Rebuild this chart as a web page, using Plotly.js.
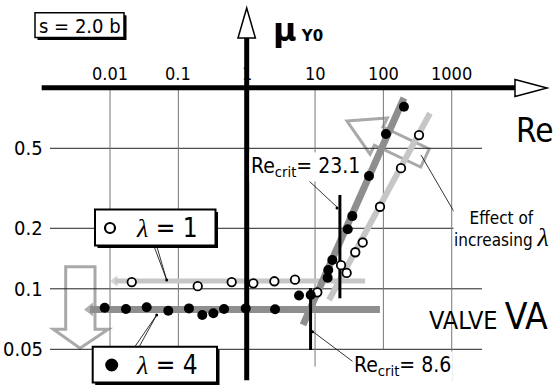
<!DOCTYPE html>
<html>
<head>
<meta charset="utf-8">
<script src="https://cdn.plot.ly/plotly-3.0.1.min.js"></script>
<style>
  html, body { margin: 0; padding: 0; background: #fff; }
  #chart { width: 554px; height: 386px; }
</style>
</head>
<body>
<div id="chart"></div>
<script>
// Yield coefficient mu_Y0 against Reynolds number, valve VA, s = 2.0 b

// lambda = 1 (open circles)
const reOpen = [0.0208, 0.192, 0.603, 1.25, 2.54, 5.09, 10.8, 24.0, 29.0, 38.8, 49.8, 89.3, 181, 332];
const muOpen = [0.108, 0.103, 0.108, 0.1065, 0.109, 0.111, 0.096, 0.131, 0.120, 0.152, 0.170, 0.256, 0.398, 0.582];

// lambda = 4 (filled circles)
const reFilled = [0.00836, 0.0171, 0.0344, 0.0712, 0.143, 0.224, 0.325, 0.466, 0.967, 2.60, 5.83, 8.64, 15.3, 15.6, 17.9, 30.1, 35.1, 61.6, 109, 200];
const muFilled = [0.0805, 0.0793, 0.0809, 0.0778, 0.0799, 0.0741, 0.0755, 0.0793, 0.0799, 0.0791, 0.0926, 0.0931, 0.1135, 0.124, 0.139, 0.198, 0.230, 0.364, 0.589, 0.805];

// trend bands (end points)
const flat1Re = [0.0118, 54];   const flat1Mu = [0.1093, 0.1093];
const flat4Re = [0.0051, 89];   const flat4Mu = [0.0789, 0.0789];
const rise1Re = [16.0, 481];    const rise1Mu = [0.088, 0.747];
const rise4Re = [6.67, 200];    const rise4Mu = [0.0661, 0.890];

// critical Reynolds numbers and the span of their markers
const reCrit = [23.1, 8.6];
const reCritMuLow = [0.0897, 0.0496];
const reCritMuHigh = [0.293, 0.1009];

// axis ticks
const xTickVals = [0.01, 0.1, 1, 10, 100, 1000];
const xTickText = ['0.01', '0.1', '1', '10', '100', '1000'];
const yTickVals = [0.05, 0.1, 0.2, 0.5];
const yTickText = ['0.05', '0.1', '0.2', '0.5'];
const xGridVals = [0.01, 0.1, 10, 100, 1000];
const xGridLow = [0.04, 0.04, 0.041, 0.05, 0.035];

// series labels
const seriesLabels = ['λ = 1', 'λ = 4'];

const W = 554, H = 386;
const FONT = '"DejaVu Sans Condensed", "Liberation Sans Narrow", Roboto, Arial, sans-serif';
const italicLambda = s => s.replace('λ', '<span style="font-family:Liberation Serif, serif;font-style:italic">λ</span>');

// pixel helpers for decorations (paper coordinates)
const px = x => x / W;
const py = y => 1 - y / H;
const pathPx = (pts, close) => 'M' + pts.map(p => px(p[0]).toFixed(5) + ',' + py(p[1]).toFixed(5)).join('L') + (close ? 'Z' : '');

const traces = [];

// trend bands
const bandFlat = (re, mu, color, width) => ({
  x: re, y: mu, type: 'scatter', mode: 'lines+markers', showlegend: false, hoverinfo: 'skip',
  line: { color: color, width: width },
  marker: { symbol: 'triangle-left', size: [width + 5, 0], color: color, line: { width: 0 } }
});
traces.push(bandFlat(flat1Re, flat1Mu, '#c6c6c6', 5));
traces.push(bandFlat(flat4Re, flat4Mu, '#8e8e8e', 7));
traces.push({ x: rise1Re, y: rise1Mu, type: 'scatter', mode: 'lines', showlegend: false, hoverinfo: 'skip',
  line: { color: '#c6c6c6', width: 6 } });
traces.push({ x: rise4Re, y: rise4Mu, type: 'scatter', mode: 'lines', showlegend: false, hoverinfo: 'skip',
  line: { color: '#8e8e8e', width: 7 } });

// critical Reynolds number markers
reCrit.forEach((r, i) => {
  traces.push({ x: [r, r], y: [reCritMuLow[i], reCritMuHigh[i]], type: 'scatter', mode: 'lines',
    showlegend: false, hoverinfo: 'skip', line: { color: '#000', width: 3 } });
});

// measured points
traces.push({
  x: reOpen, y: muOpen, type: 'scatter', mode: 'markers', name: seriesLabels[0], showlegend: false,
  marker: { symbol: 'circle', size: 8.5, color: '#fff', line: { color: '#000', width: 1.8 } }
});
traces.push({
  x: reFilled, y: muFilled, type: 'scatter', mode: 'markers', name: seriesLabels[1], showlegend: false,
  marker: { symbol: 'circle', size: 10, color: '#000', line: { width: 0 } }
});

const shapes = [];

// grid
yTickVals.forEach(v => shapes.push({ type: 'line', xref: 'x', yref: 'y', x0: 0.001324, x1: 2773, y0: v, y1: v,
  line: { color: '#222', width: 1 }, layer: 'below' }));
xGridVals.forEach((v, i) => shapes.push({ type: 'line', xref: 'x', yref: 'y', x0: v, x1: v, y0: xGridLow[i], y1: 1,
  line: { color: '#777', width: 1 }, layer: 'below' }));

// hollow arrows (effect of increasing lambda)
shapes.push({ type: 'path', xref: 'paper', yref: 'paper', layer: 'below',
  path: pathPx([[65.7, 266.7], [95, 266.7], [95, 329.3], [108.3, 329.3], [80, 348.3], [53.3, 329.3], [65.7, 329.3]], true),
  line: { color: '#a9a9a9', width: 3 } });
shapes.push({ type: 'path', xref: 'paper', yref: 'paper', layer: 'below',
  path: pathPx([[347, 121], [387.3, 118], [383, 127], [429.3, 148.9], [420.7, 167.1], [374.4, 145.2], [370.1, 154.2]], true),
  line: { color: '#a9a9a9', width: 3 } });

// main axes
shapes.push({ type: 'line', xref: 'x', yref: 'y', x0: 0.001, x1: 8440, y0: 1, y1: 1, line: { color: '#000', width: 5 } });
shapes.push({ type: 'line', xref: 'x', yref: 'y', x0: 1, x1: 1, y0: 0.0351, y1: 1.77, line: { color: '#000', width: 5 } });
shapes.push({ type: 'path', xref: 'paper', yref: 'paper', fillcolor: '#fff',
  path: pathPx([[515, 79.5], [547, 88], [515, 96.5]], true), line: { color: '#000', width: 1.5 } });
shapes.push({ type: 'path', xref: 'paper', yref: 'paper', fillcolor: '#fff',
  path: pathPx([[238, 38], [246.7, 8], [255.4, 38]], true), line: { color: '#000', width: 1.5 } });

// leader lines
const leader = (pts, w) => shapes.push({ type: 'path', xref: 'paper', yref: 'paper', path: pathPx(pts, false),
  line: { color: '#000', width: w || 0.8 } });
leader([[154.3, 247], [166.7, 280], [157, 247]]);
leader([[135, 346.5], [156.7, 315], [139.3, 346.5]]);
leader([[308, 180], [338, 208]]);
leader([[353, 361.7], [313, 331.7]]);
leader([[421, 155], [460, 222]]);
const dot = (x, y, r, fill, lw) => shapes.push({ type: 'circle', xref: 'paper', yref: 'paper',
  x0: px(x - r), x1: px(x + r), y0: py(y + r), y1: py(y - r), fillcolor: fill || '#000',
  line: { color: '#000', width: lw || 0 } });
dot(166.7, 280, 1.5); dot(156.7, 315, 1.5); dot(337, 208, 1.5); dot(312.5, 331.7, 1.5);

// boxed labels: shadow, then white frame
const box = (x0, y0, x1, y1, lw) => {
  shapes.push({ type: 'rect', xref: 'paper', yref: 'paper',
    x0: px(x0 + 2.5), x1: px(x1 + 2.5), y0: py(y1 + 2.5), y1: py(y0 + 2.5), fillcolor: '#000', line: { width: 0 } });
  shapes.push({ type: 'rect', xref: 'paper', yref: 'paper',
    x0: px(x0), x1: px(x1), y0: py(y1), y1: py(y0), fillcolor: '#fff', line: { color: '#000', width: lw } });
};
box(35, 12.7, 124, 37.5, 1.5);
box(95, 209.5, 215.5, 245.5, 2);
box(92.7, 346.7, 217, 382.5, 2);
// series symbols inside the key boxes
dot(110, 228, 5, '#fff', 2.2);
dot(111.7, 365, 6.5, '#000', 0);

const annotations = [];
const txt = (o) => annotations.push(Object.assign({ showarrow: false, xref: 'paper', yref: 'paper',
  xanchor: 'center', yanchor: 'middle', font: { family: FONT, size: 17, color: '#000' } }, o));

xTickVals.forEach((v, i) => txt({ xref: 'x', x: Math.log10(v), y: py(73), text: xTickText[i],
  font: { family: FONT, size: 18, color: '#000' } }));
yTickVals.forEach((v, i) => txt({ x: px(45), yref: 'y', y: Math.log10(v), text: yTickText[i],
  xanchor: 'right', font: { family: FONT, size: 20, color: '#000' } }));

txt({ x: px(534), y: py(130), text: 'Re', font: { family: FONT, size: 33, color: '#000' } });
txt({ x: px(550), y: py(316), xanchor: 'right',
  text: 'VALVE <span style="font-size:37px">VA</span>', font: { family: FONT, size: 25, color: '#000' } });
txt({ x: px(271), y: py(30), xanchor: 'left',
  text: '<b>μ</b><b><span style="font-size:15px"> Y0</span></b>', font: { family: 'DejaVu Sans, sans-serif', size: 32, color: '#000' } });
txt({ x: px(79.5), y: py(25.5), text: 's = 2.0 b', font: { family: FONT, size: 20, color: '#000' } });
txt({ x: px(134), y: py(228), xanchor: 'left', text: italicLambda(seriesLabels[0]),
  font: { family: FONT, size: 26, color: '#000' } });
txt({ x: px(134), y: py(365), xanchor: 'left', text: italicLambda(seriesLabels[1]),
  font: { family: FONT, size: 26, color: '#000' } });
txt({ x: px(305.5), y: py(167), text: 'Re<sub>crit</sub>= ' + reCrit[0], bgcolor: '#fff', borderpad: 1,
  font: { family: FONT, size: 21, color: '#000' } });
txt({ x: px(402), y: py(366), text: 'Re<sub>crit</sub>= ' + reCrit[1], bgcolor: '#fff', borderpad: 1,
  font: { family: FONT, size: 21, color: '#000' } });
txt({ x: px(501), y: py(230), text: 'Effect of<br>increasing <span style="font-size:26px">' + italicLambda('λ') + '</span>',
  bgcolor: '#fff', borderpad: 0, font: { family: FONT, size: 17, color: '#000' } });

const layout = {
  width: W, height: H,
  margin: { l: 0, r: 0, t: 0, b: 0, autoexpand: false },
  paper_bgcolor: '#fff', plot_bgcolor: '#fff',
  xaxis: { type: 'log', range: [-3.6099, 4.4966], visible: false, fixedrange: true },
  yaxis: { type: 'log', range: [-1.4836, 0.4368], visible: false, fixedrange: true },
  showlegend: false,
  shapes: shapes,
  annotations: annotations
};

Plotly.newPlot('chart', traces, layout, { staticPlot: true, displayModeBar: false });
</script>
</body>
</html>
